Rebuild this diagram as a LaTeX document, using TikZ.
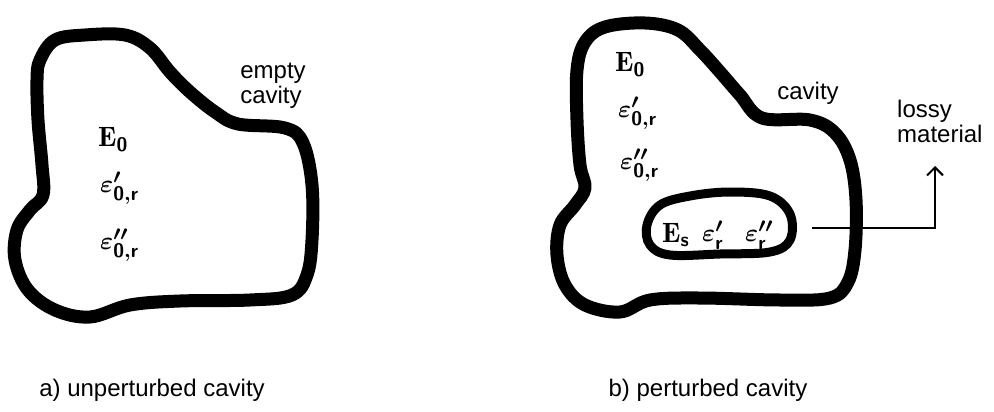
\documentclass[tikz,border=0pt]{standalone}
\usepackage{fontspec}
\newfontfamily\lab{Liberation Sans}
\usetikzlibrary{arrows.meta}
\begin{document}
\begin{tikzpicture}[x=1pt,y=-1pt,
  wall/.style={line width=13pt, line join=round},
  innerwall/.style={line width=9pt, line join=round},
  lab/.style={font=\lab\fontsize{24}{25}\selectfont, inner sep=0pt},
  sym/.style={font=\fontsize{28}{30}\selectfont\boldmath, inner sep=0pt, anchor=west},
  conn/.style={line width=2pt, -{Straight Barb[length=8pt,width=16pt]}}]
\useasboundingbox (0,0) rectangle (994,412);
% ---------- a) unperturbed cavity ----------
\draw[wall] plot[smooth cycle, tension=0.6] coordinates {
 (40,60) (55,40) (85,35) (125,35) (150,48) (170,72) (190,92) (215,112) (238,124)
 (285,128) (303,143) (312,185) (312,240) (307,275) (292,295) (250,300) (180,301)
 (130,305) (90,317) (55,310) (28,290) (15,260) (17,230) (30,210) (43,195) (42,165)
 (38,120) (37,80)};
\node[lab, align=left] (emptylab) at (273,86) {empty\\cavity};
\node[sym] (aE) at (98,140) {$\mathrm{E}_{\mathsf{0}}$};
\node[sym] (aeps1) at (100,188) {$\varepsilon'_{\mathsf{0,r}}$};
\node[sym] (aeps2) at (100,245) {$\varepsilon''_{\mathsf{0,r}}$};
\node[lab] (capa) at (152,390) {a) unperturbed cavity};
% ---------- b) perturbed cavity ----------
\coordinate (ls) at (812,228);
\coordinate (tip) at (935,166);
\draw[conn] (ls) -| (tip);
\draw[wall] plot[smooth cycle, tension=0.6] coordinates {
 (585,42) (605,27) (645,23) (678,30) (700,50) (720,72) (740,95) (762,118) (810,120)
 (835,133) (850,160) (856,200) (855,250) (848,282) (830,298) (780,300) (700,298)
 (650,300) (620,312) (585,305) (565,285) (557,255) (560,225) (575,205) (585,188)
 (580,165) (577,120) (577,70)};
\draw[innerwall] plot[smooth cycle, tension=0.6] coordinates {
 (647,225) (660,205) (690,196) (730,192) (770,196) (790,214) (790,240) (770,252)
 (720,254) (670,255) (650,245)};
\node[lab] (cavlab) at (808,93) {cavity};
\node[lab, align=left, anchor=north west] (lossy) at (897,100) {lossy\\material};
\node[sym] (bE) at (615,65) {$\mathrm{E}_{\mathsf{0}}$};
\node[sym] (beps1) at (618,113) {$\varepsilon'_{\mathsf{0,r}}$};
\node[sym] (beps2) at (620,165) {$\varepsilon''_{\mathsf{0,r}}$};
\node[sym] (bEs) at (662,235) {$\mathrm{E}_{\mathsf{s}}$};
\node[sym] (bepsr1) at (702,235) {$\varepsilon'_{\mathsf{r}}$};
\node[sym] (bepsr2) at (745,235) {$\varepsilon''_{\mathsf{r}}$};
\node[lab] (capb) at (708,390) {b) perturbed cavity};
\end{tikzpicture}
\end{document}
